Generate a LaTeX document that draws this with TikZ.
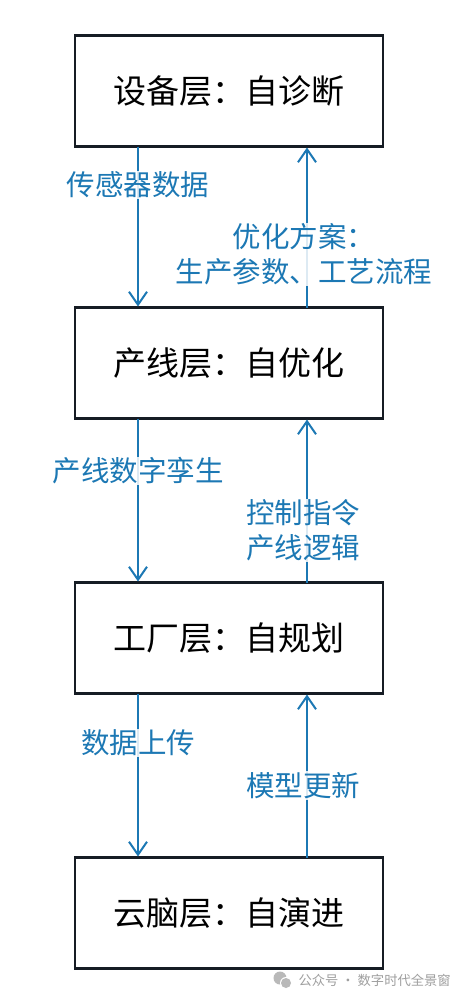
\documentclass[tikz,border=0pt]{standalone}
\usepackage{fontspec}
\setmainfont{Noto Sans CJK SC}
\usepackage{tikz}
\usetikzlibrary{positioning, arrows.meta}
\definecolor{flowblue}{RGB}{28,120,180}
\definecolor{boxline}{RGB}{22,28,36}

\begin{document}
\begin{tikzpicture}[
                    x=1pt, y=-1pt,
                    >={Straight Barb[length=13pt,width=18pt]},
                    layer/.style={draw=boxline, line width=2.4pt, minimum width=308pt,
                                  minimum height=111pt, inner sep=0pt, outer sep=0pt,
                                  font=\fontsize{33}{39}\selectfont},
                    flow/.style={->, draw=flowblue, line width=2pt, shorten >=1pt},
                    tag/.style={fill=white, fill opacity=0.85, text opacity=1, text=flowblue,
                                inner sep=1pt, align=center, font=\fontsize{28.5}{34.5}\selectfont},
                ]
                \fill[white] (0,0) rectangle (466,999);
                \useasboundingbox (0,0) rectangle (466,999);

                \node[layer] (dev) at (229,91) {设备层：自诊断};
                \node[layer, below=161pt of dev] (line) {产线层：自优化};
                \node[layer, below=164pt of line] (plant) {工厂层：自规划};
                \node[layer, below=164pt of plant] (cloud) {云脑层：自演进};

                \draw[flow] ([xshift=-91pt]dev.south) -- node[tag, pos=0.24] (t1) {传感器数据} ([xshift=-91pt]line.north);
                \draw[flow] ([xshift=78pt]line.north) -- node[tag, pos=0.33, xshift=-3pt] (t2) {优化方案：\\生产参数、工艺流程} ([xshift=78pt]dev.south);

                \draw[flow] ([xshift=-91pt]line.south) -- node[tag, pos=0.32] (t3) {产线数字孪生} ([xshift=-91pt]plant.north);
                \draw[flow] ([xshift=78pt]plant.north) -- node[tag, pos=0.32, xshift=-4pt] (t4) {控制指令\\产线逻辑} ([xshift=78pt]line.south);

                \draw[flow] ([xshift=-91pt]plant.south) -- node[tag, pos=0.30] (t5) {数据上传} ([xshift=-91pt]cloud.north);
                \draw[flow] ([xshift=78pt]cloud.north) -- node[tag, pos=0.44, xshift=-4pt] (t6) {模型更新} ([xshift=78pt]plant.south);

                \node[anchor=west, text=gray!75, font=\fontsize{13.3}{15}\selectfont] (mark) at (295,980) {公众号 · 数字时代全景窗};
                \fill[gray!55] (280,978) circle (6.5);
                \fill[white] (286,983) circle (6);
                \fill[gray!55] (286,983) circle (5);
            \end{tikzpicture}
\end{document}
